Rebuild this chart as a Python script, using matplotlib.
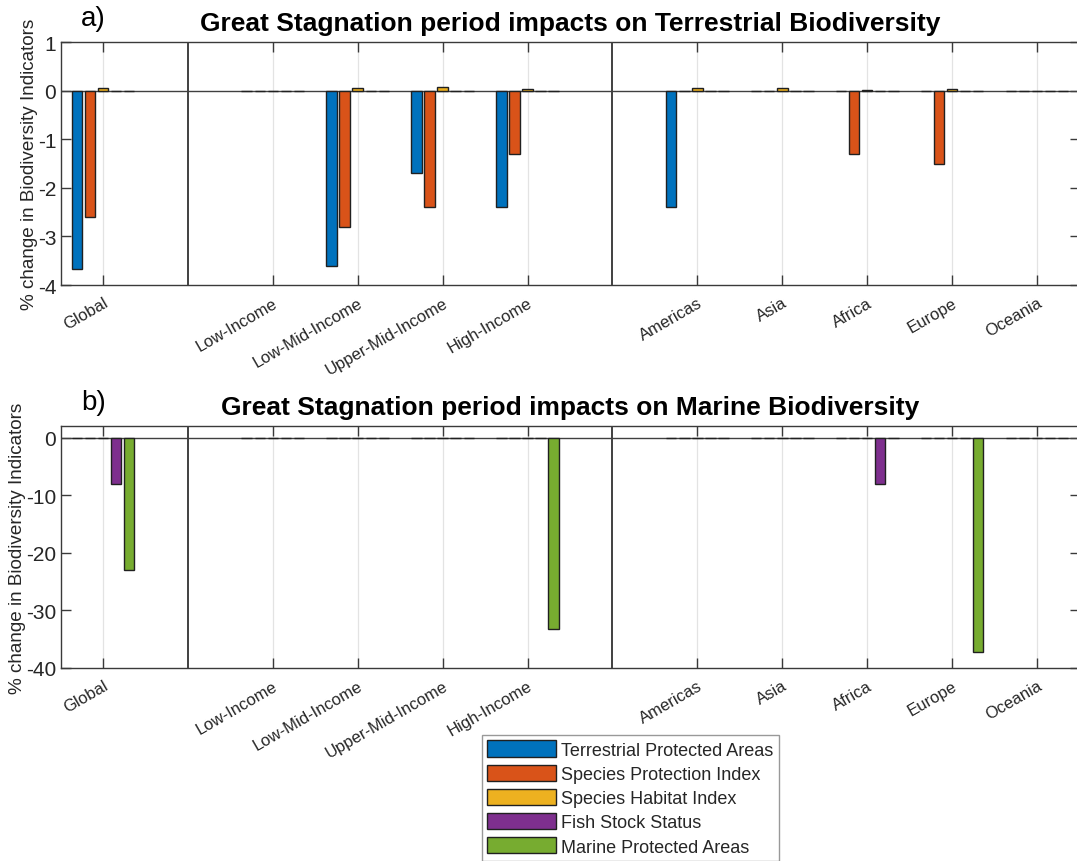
import matplotlib
matplotlib.use('Agg')
import matplotlib.pyplot as plt
import numpy as np

plt.rcParams['font.family'] = ['Liberation Sans', 'DejaVu Sans']

# ---------------- data ----------------
regions = ['Global', 'Low-Income', 'Low-Mid-Income', 'Upper-Mid-Income', 'High-Income',
           'Americas', 'Asia', 'Africa', 'Europe', 'Oceania']
region_slots = [1, 3, 4, 5, 6, 8, 9, 10, 11, 12]
separator_slots = [2, 7]

series_names = ['Terrestrial Protected Areas', 'Species Protection Index',
                'Species Habitat Index', 'Fish Stock Status', 'Marine Protected Areas']
series_colors = ['#0072BD', '#D95319', '#EDB120', '#7E2F8E', '#77AC30']

# panel a) terrestrial
terr_protected_areas = [-3.67, 0, -3.60, -1.70, -2.40, -2.40, 0, 0, 0, 0]
terr_species_protection = [-2.60, 0, -2.80, -2.40, -1.30, 0, 0, -1.30, -1.50, 0]
terr_species_habitat = [0.06, 0, 0.05, 0.08, 0.04, 0.05, 0.05, 0.02, 0.03, 0]
terr_fish_stock = [0, 0, 0, 0, 0, 0, 0, 0, 0, 0]
terr_marine_protected = [0, 0, 0, 0, 0, 0, 0, 0, 0, 0]

# panel b) marine
mar_protected_areas = [0, 0, 0, 0, 0, 0, 0, 0, 0, 0]
mar_species_protection = [0, 0, 0, 0, 0, 0, 0, 0, 0, 0]
mar_species_habitat = [0, 0, 0, 0, 0, 0, 0, 0, 0, 0]
mar_fish_stock = [-8.1, 0, 0, 0, 0, 0, 0, -8.1, 0, 0]
mar_marine_protected = [-22.9, 0, 0, 0, -33.2, 0, 0, 0, -37.3, 0]

panels = [
    dict(tag='a)', title='Great Stagnation period impacts on Terrestrial Biodiversity',
         series=[terr_protected_areas, terr_species_protection, terr_species_habitat,
                 terr_fish_stock, terr_marine_protected],
         ylim=(-4, 1), yticks=[-4, -3, -2, -1, 0, 1], label_x=-0.022),
    dict(tag='b)', title='Great Stagnation period impacts on Marine Biodiversity',
         series=[mar_protected_areas, mar_species_protection, mar_species_habitat,
                 mar_fish_stock, mar_marine_protected],
         ylim=(-40, 2), yticks=[-40, -30, -20, -10, 0], label_x=-0.034),
]

# ---------------- figure ----------------
W, H = 1077, 862
fig = plt.figure(figsize=(W / 100, H / 100), dpi=100)

axes_px = [(60.5, 43.3, 1079.5, 286.0), (60.5, 427.3, 1079.5, 669.0)]
dark = '#262626'
spine_c = '#3a3a3a'

nser = 5
group_w = min(0.8, nser / (nser + 1.5))
step = group_w / nser
bar_w = 0.8 * step
x = np.array(region_slots, dtype=float)
handles = []

for p, (l, t, r, b) in zip(panels, axes_px):
    ax = fig.add_axes([l / W, 1 - b / H, (r - l) / W, (b - t) / H])
    ax.set_xlim(0.5, 12.5)
    ax.set_ylim(*p['ylim'])
    ax.set_axisbelow(True)
    ax.grid(axis='x', color='#e3e3e3', linewidth=0.9, zorder=0)
    for i, (vals, col) in enumerate(zip(p['series'], series_colors)):
        off = (i - (nser - 1) / 2) * step
        bc = ax.bar(x + off, vals, width=bar_w, color=col, edgecolor='#202020',
                    linewidth=1.0, zorder=3)
        if p['tag'] == 'a)':
            handles.append(bc)
    for s in separator_slots:
        ax.axvline(s, color='#404040', linewidth=1.4, zorder=4)
    ax.axhline(0, color='#404040', linewidth=1.0, zorder=2)
    ax.set_xticks(region_slots)
    ax.set_xticklabels(regions, rotation=30, ha='right', va='top',
                       rotation_mode='anchor', fontsize=12, color=dark)
    ax.set_yticks(p['yticks'])
    ax.set_yticklabels([str(v) for v in p['yticks']], fontsize=15, color=dark)
    ax.tick_params(axis='both', direction='in', length=7, width=1.0, color=spine_c,
                   top=True, right=True)
    ax.tick_params(axis='x', pad=7)
    ax.tick_params(axis='y', pad=3)
    for sp in ax.spines.values():
        sp.set_color(spine_c)
        sp.set_linewidth(1.0)
    ax.set_ylabel('% change in Biodiversity Indicators', fontsize=13.6, color=dark,
                  labelpad=2)
    ax.yaxis.set_label_coords(p['label_x'], 0.5)
    ax.set_title(p['title'], fontsize=19, fontweight='bold', color='black', pad=9)
    ax.text(20.5 / (r - l), 1.045, p['tag'], transform=ax.transAxes, fontsize=20,
            color='black', ha='left', va='bottom')

leg = fig.legend(handles, series_names, loc='upper left',
                 bbox_to_anchor=(482 / W, 1 - 736 / H), fontsize=13,
                 frameon=True, fancybox=False, edgecolor='#808080',
                 handlelength=3.8, handleheight=1.0, handletextpad=0.3,
                 labelspacing=0.33, borderpad=0.3, borderaxespad=0.0)
leg.get_frame().set_linewidth(1.0)
for txt in leg.get_texts():
    txt.set_color(dark)

fig.savefig('out.png', dpi=100)
